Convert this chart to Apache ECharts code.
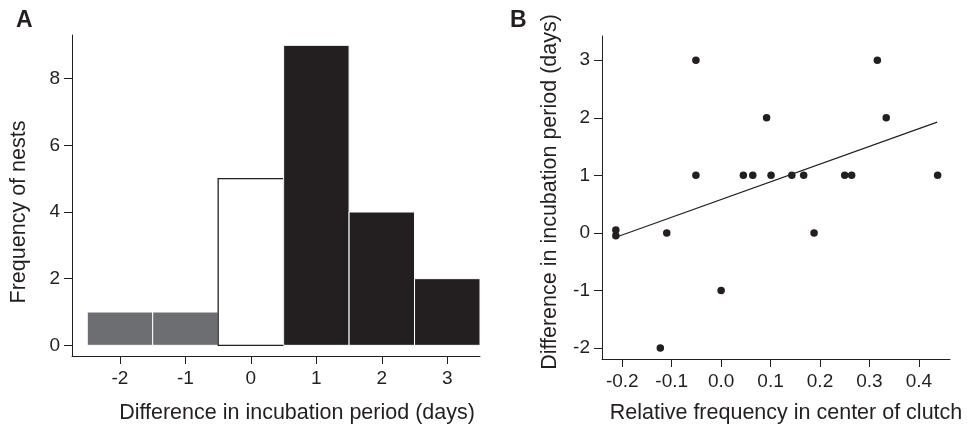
<!DOCTYPE html>
<html>
<head>
<meta charset="utf-8">
<script src="https://cdn.jsdelivr.net/npm/echarts@6/dist/echarts.min.js"></script>
<style>
* { margin: 0; padding: 0; }
html, body { background: #fff; }
#main { width: 967px; height: 427px; }
</style>
</head>
<body>
<div id="main"></div>
<script>
// panel A: histogram
var bins = [-2, -1, 0, 1, 2, 3];
var counts = [1, 1, 5, 9, 4, 2];
var histXTicks = [-2, -1, 0, 1, 2, 3];
var histYTicks = [0, 2, 4, 6, 8];

// panel B: scatter + fitted line
var relFreq = [-0.213, -0.213, -0.051, -0.051, -0.110, -0.123, 0.000, 0.045, 0.064, 0.092, 0.101, 0.143, 0.167, 0.188, 0.250, 0.264, 0.316, 0.334, 0.438];
var incDiff = [0.05, -0.05, 3, 1, 0, -2, -1, 1, 1, 2, 1, 1, 1, 0, 1, 1, 3, 2, 1];
var fitX = [-0.213, 0.437];
var fitY = [-0.075, 1.925];
var scatXTicks = [-0.2, -0.1, 0.0, 0.1, 0.2, 0.3, 0.4];
var scatYTicks = [-2, -1, 0, 1, 2, 3];

var ink = '#231f20';
var grey = '#6d6e71';
var font = 'Liberation Sans, Arial, sans-serif';

var chartDom = document.getElementById('main');
var myChart = echarts.init(chartDom);

function axisBase(ticks, fmt, isX) {
  return {
    type: 'value',
    axisLine: { show: true, onZero: false, lineStyle: { color: ink, width: 1 } },
    axisTick: { show: true, length: 8, lineStyle: { color: ink, width: 1 }, customValues: ticks },
    axisLabel: {
      color: ink, fontSize: 19, fontFamily: font, margin: isX ? 13 : 12,
      customValues: ticks, formatter: fmt
    },
    splitLine: { show: false }
  };
}

var option = {
  animation: false,
  backgroundColor: '#fff',
  grid: [
    { left: 72, top: 35, width: 408, height: 321 },
    { left: 602, top: 36, width: 348, height: 323 }
  ],
  xAxis: [
    Object.assign(axisBase(histXTicks, function (v) { return String(v); }, true),
      { gridIndex: 0, min: -2.733, max: 3.5 }),
    Object.assign(axisBase(scatXTicks, function (v) { return v.toFixed(1); }, true),
      { gridIndex: 1, min: -0.241, max: 0.463 })
  ],
  yAxis: [
    Object.assign(axisBase(histYTicks, function (v) { return String(v); }, false),
      { gridIndex: 0, min: -0.32, max: 9.31 }),
    Object.assign(axisBase(scatYTicks, function (v) { return String(v); }, false),
      { gridIndex: 1, min: -2.19, max: 3.42 })
  ],
  graphic: [
    { type: 'text', left: 16, top: 9, style: { text: 'A', font: 'bold 23px ' + font, fill: ink } },
    { type: 'text', left: 510, top: 9, style: { text: 'B', font: 'bold 23px ' + font, fill: ink } },
    { type: 'text', x: 297, y: 413, style: { text: 'Difference in incubation period (days)', font: '21.5px ' + font, fill: ink, align: 'center', verticalAlign: 'middle' } },
    { type: 'text', x: 19, y: 212, rotation: Math.PI / 2, style: { text: 'Frequency of nests', font: '21.5px ' + font, fill: ink, align: 'center', verticalAlign: 'middle' } },
    { type: 'text', x: 786, y: 413, style: { text: 'Relative frequency in center of clutch', font: '21.5px ' + font, fill: ink, align: 'center', verticalAlign: 'middle' } },
    { type: 'text', x: 550, y: 192, rotation: Math.PI / 2, style: { text: 'Difference in incubation period (days)', font: '21.5px ' + font, fill: ink, align: 'center', verticalAlign: 'middle' } }
  ],
  series: [
    {
      type: 'custom',
      xAxisIndex: 0,
      yAxisIndex: 0,
      clip: false,
      data: bins.map(function (b, i) { return [b, counts[i]]; }),
      renderItem: function (params, api) {
        var x = api.value(0);
        var y = api.value(1);
        var p0 = api.coord([x - 0.5, 0]);
        var p1 = api.coord([x + 0.5, y]);
        var fill = x < 0 ? grey : (x === 0 ? '#fff' : ink);
        var stroke = x === 0 ? ink : '#fff';
        return {
          type: 'rect',
          shape: { x: p0[0], y: p1[1], width: p1[0] - p0[0], height: p0[1] - p1[1] },
          style: { fill: fill, stroke: stroke, lineWidth: x === 0 ? 1.3 : 1 }
        };
      }
    },
    {
      type: 'line',
      xAxisIndex: 1,
      yAxisIndex: 1,
      data: fitX.map(function (v, i) { return [v, fitY[i]]; }),
      showSymbol: false,
      lineStyle: { color: ink, width: 1.2 },
      z: 2
    },
    {
      type: 'scatter',
      xAxisIndex: 1,
      yAxisIndex: 1,
      data: relFreq.map(function (v, i) { return [v, incDiff[i]]; }),
      symbol: 'circle',
      symbolSize: 7.5,
      itemStyle: { color: ink, opacity: 1 },
      z: 3
    }
  ]
};

myChart.setOption(option);
</script>
</body>
</html>
